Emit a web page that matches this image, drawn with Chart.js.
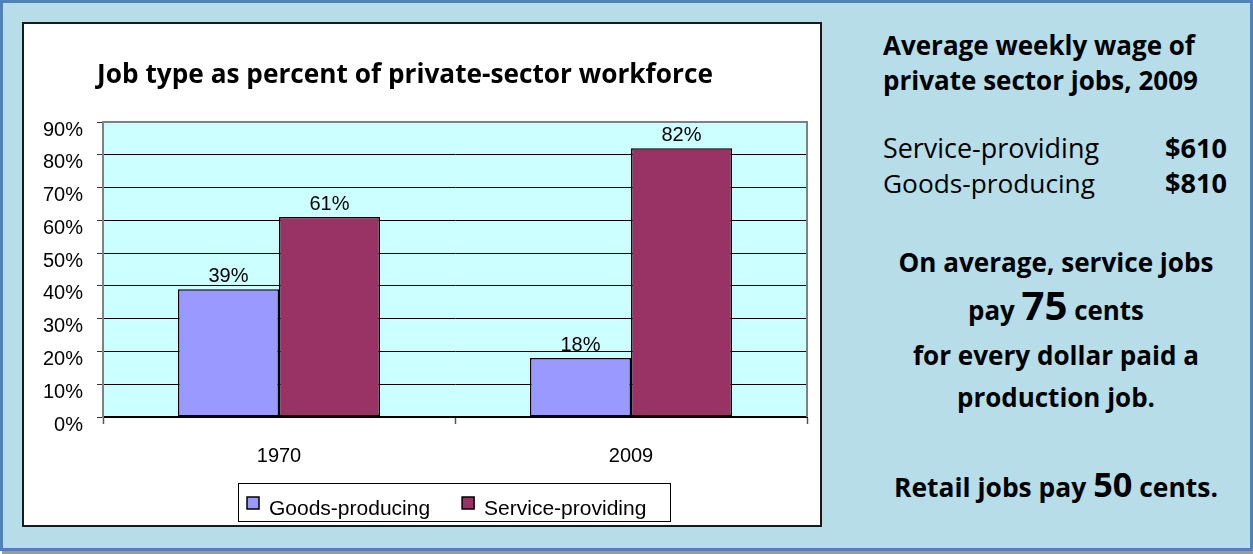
<!DOCTYPE html>
<html>
<head>
<meta charset="utf-8">
<script src="https://cdn.jsdelivr.net/npm/chart.js@4.4.1/dist/chart.umd.min.js"></script>
<style>
html,body{margin:0;padding:0;width:1253px;height:554px;overflow:hidden;background:#fff;}
#frame{position:absolute;left:0;top:0;width:1247px;height:545px;border:3px solid #4F81BD;background:#B7DDE8;}
#shadow{position:absolute;left:2px;top:551px;width:1251px;height:3px;background:#9a9a9a;}
#box{position:absolute;left:22px;top:22px;width:796px;height:501px;border:2px solid #1a1a1a;background:#fff;}
#chart{position:absolute;left:0;top:0;}
.t{position:absolute;left:0;top:0;font-family:'Open Sans',sans-serif;color:#000;white-space:nowrap;line-height:1;font-size:22px;font-weight:700;}
.r{font-weight:400;}
.big75{font-size:1.55em;}
.big50{font-size:1.3em;}
</style>
</head>
<body>
<div id="frame"></div>
<div id="shadow"></div>
<div id="box"><canvas id="chart" width="796" height="501"></canvas></div>

<div class="t" data-x="883" data-base="55" data-w="312" data-align="left">Average weekly wage of</div>
<div class="t" data-x="883" data-base="90" data-w="315" data-align="left">private sector jobs, 2009</div>
<div class="t r" data-x="883" data-base="158" data-w="216" data-align="left">Service-providing</div>
<div class="t" data-x="1227" data-base="158" data-w="62" data-align="right">$610</div>
<div class="t r" data-x="883" data-base="193" data-w="212" data-align="left">Goods-producing</div>
<div class="t" data-x="1227" data-base="193" data-w="62" data-align="right">$810</div>
<div class="t" data-x="1056" data-base="272" data-w="315" data-align="center">On average, service jobs</div>
<div class="t" data-x="1056" data-base="320" data-w="176" data-align="center">pay <span class="big75">75</span> cents</div>
<div class="t" data-x="1056" data-base="365" data-w="286" data-align="center">for every dollar paid a</div>
<div class="t" data-x="1056" data-base="407" data-w="198" data-align="center">production job.</div>
<div class="t" data-x="1056" data-base="497" data-w="324" data-align="center">Retail jobs pay <span class="big50">50</span> cents.</div>

<script>
// ---- data ----
const categories = ['1970', '2009'];
const seriesNames = ['Goods-producing', 'Service-providing'];
const goodsProducing = [39, 18];
const serviceProviding = [61, 82];
const yTickLabels = ['0%', '10%', '20%', '30%', '40%', '50%', '60%', '70%', '80%', '90%'];
const chartTitle = 'Job type as percent of private-sector workforce';

const colors = ['#9999FF', '#993366'];
const FONT = "'Liberation Sans', Arial, sans-serif";

const plotBg = {
  id: 'plotBg',
  beforeDraw(chart) {
    const a = chart.chartArea, c = chart.ctx;
    c.save();
    c.fillStyle = '#CCFFFF';
    c.fillRect(a.left, a.top, a.right - a.left, a.bottom - a.top);
    c.restore();
  },
  beforeDatasetsDraw(chart) {
    const a = chart.chartArea, c = chart.ctx;
    c.save();
    c.strokeStyle = '#808080';
    c.lineWidth = 2;
    c.beginPath();
    c.moveTo(a.left, a.top);
    c.lineTo(a.right, a.top);
    c.lineTo(a.right, a.bottom);
    c.stroke();
    c.restore();
  }
};

const extras = {
  id: 'extras',
  afterDatasetsDraw(chart) {
    const c = chart.ctx;
    c.save();
    c.font = '20px ' + FONT;
    c.fillStyle = '#000';
    c.textAlign = 'center';
    c.textBaseline = 'alphabetic';
    chart.data.datasets.forEach((ds, di) => {
      const meta = chart.getDatasetMeta(di);
      meta.data.forEach((bar, i) => {
        c.fillText(ds.data[i] + '%', bar.x, bar.y - 7);
      });
    });
    c.restore();
  },
  afterDraw(chart) {
    const c = chart.ctx;
    c.save();
    // title
    c.font = "bold 22px 'Open Sans', sans-serif";
    const w0 = c.measureText(chartTitle).width;
    const fs = 22 * 616 / w0;
    c.font = "bold " + fs.toFixed(2) + "px 'Open Sans', sans-serif";
    c.fillStyle = '#000';
    c.textAlign = 'center';
    c.textBaseline = 'alphabetic';
    c.fillText(chartTitle, 381, 59);

    // legend
    const bx = 214, by = 459, bw = 432, bh = 38;
    c.fillStyle = '#fff';
    c.fillRect(bx, by, bw, bh);
    c.strokeStyle = '#000';
    c.lineWidth = 1;
    c.strokeRect(bx + 0.5, by + 0.5, bw, bh);
    c.font = '21px ' + FONT;
    c.textAlign = 'left';
    let x = 223;
    chart.data.datasets.forEach((ds, i) => {
      c.fillStyle = ds.backgroundColor;
      c.fillRect(x, 473, 12, 12);
      c.strokeStyle = '#000';
      c.lineWidth = 1.5;
      c.strokeRect(x, 473, 12, 12);
      c.fillStyle = '#000';
      c.fillText(ds.label, x + 22, 491);
      x += 22 + c.measureText(ds.label).width + 32;
    });
    c.restore();
  }
};

new Chart(document.getElementById('chart'), {
  type: 'bar',
  data: {
    labels: categories,
    datasets: [
      { label: seriesNames[0], data: goodsProducing, backgroundColor: colors[0], borderColor: '#000', borderWidth: 1.5, borderSkipped: false },
      { label: seriesNames[1], data: serviceProviding, backgroundColor: colors[1], borderColor: '#000', borderWidth: 1.5, borderSkipped: false }
    ]
  },
  options: {
    responsive: false,
    animation: false,
    events: [],
    categoryPercentage: 0.574,
    barPercentage: 1.0,
    layout: { padding: { top: 98, left: 0, right: 13, bottom: 48 } },
    plugins: { legend: { display: false }, title: { display: false }, tooltip: { enabled: false } },
    scales: {
      x: {
        grid: { offset: true, drawOnChartArea: false, drawTicks: true, tickLength: 7, tickColor: '#555', tickWidth: 1.5 },
        border: { color: '#000', width: 2 },
        ticks: { font: { family: FONT, size: 20 }, color: '#000', padding: 20 },
        afterFit(s) { s.height = 60; }
      },
      y: {
        min: 0, max: 90,
        ticks: { stepSize: 10, font: { family: FONT, size: 20 }, color: '#000', padding: 14, labelOffset: 8,
                 callback: (v, i) => yTickLabels[i] },
        grid: { color: ctx => (ctx.tick && ctx.tick.value === 90 ? '#808080' : '#000'), lineWidth: 1, tickLength: 6, tickColor: '#333' },
        border: { color: '#808080', width: 2 },
        afterFit(s) { s.width = 79; }
      }
    }
  },
  plugins: [plotBg, extras]
});

function placeText() {
  document.querySelectorAll('.t').forEach(el => {
    const target = +el.dataset.w;
    let fs = parseFloat(getComputedStyle(el).fontSize);
    const w0 = el.getBoundingClientRect().width;
    fs = fs * target / w0;
    el.style.fontSize = fs.toFixed(2) + 'px';
    const m = document.createElement('span');
    m.style.cssText = 'display:inline-block;width:0;height:0;';
    el.appendChild(m);
    const baseOff = m.offsetTop;
    const w = el.getBoundingClientRect().width;
    const x = +el.dataset.x;
    const al = el.dataset.align;
    el.style.left = (al === 'left' ? x : al === 'right' ? x - w : x - w / 2) + 'px';
    el.style.top = (+el.dataset.base - baseOff) + 'px';
  });
}
if (document.fonts && document.fonts.ready) {
  document.fonts.ready.then(placeText);
} else {
  placeText();
}
</script>
</body>
</html>
